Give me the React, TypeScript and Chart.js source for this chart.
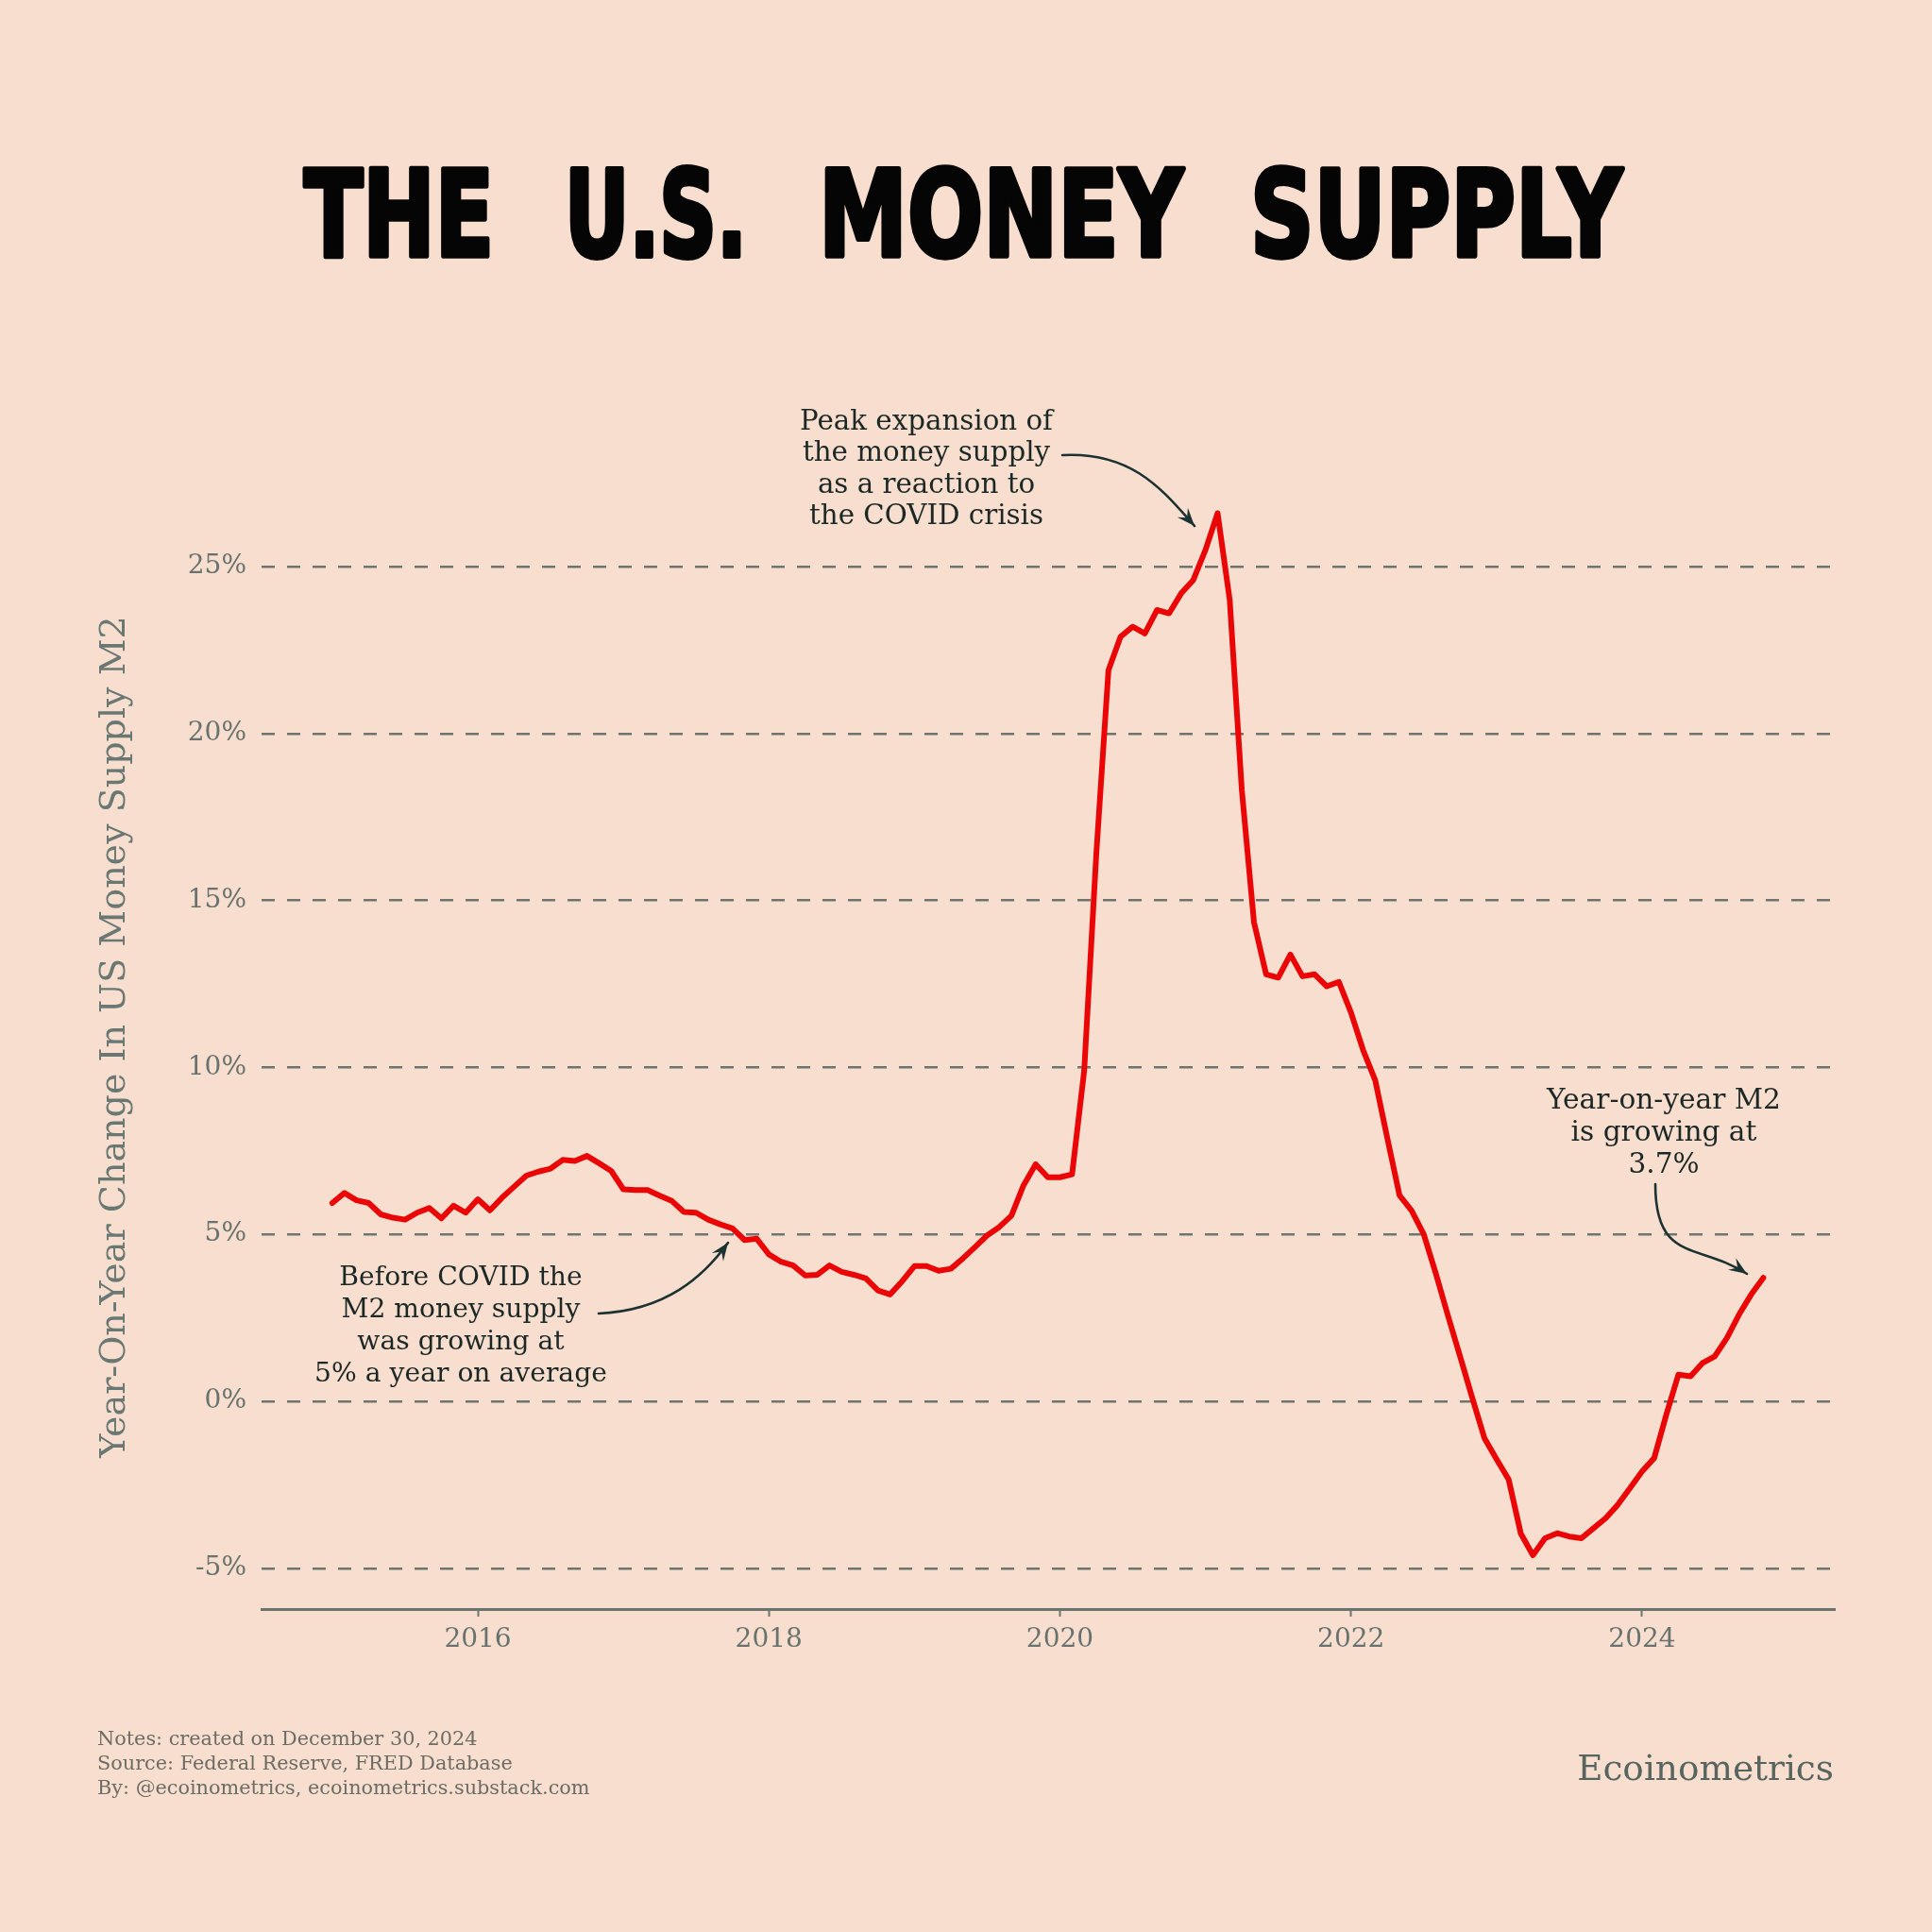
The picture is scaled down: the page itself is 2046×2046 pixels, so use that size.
import React, { useEffect, useRef } from "react";
import { Chart, registerables } from "chart.js";

Chart.register(...registerables);

// ---------- DATA ----------
const START_YEAR = 2015; // first monthly observation: January 2015
const m2_2015 = [5.94, 6.24, 6.02, 5.94, 5.6, 5.5, 5.44, 5.65, 5.79, 5.48, 5.86, 5.65];
const m2_2016 = [6.05, 5.72, 6.1, 6.43, 6.76, 6.88, 6.97, 7.23, 7.2, 7.35, 7.13, 6.9];
const m2_2017 = [6.35, 6.33, 6.33, 6.16, 6.0, 5.67, 5.65, 5.44, 5.3, 5.18, 4.83, 4.87];
const m2_2018 = [4.4, 4.18, 4.07, 3.77, 3.79, 4.07, 3.88, 3.79, 3.68, 3.32, 3.2, 3.6];
const m2_2019 = [4.05, 4.05, 3.91, 3.97, 4.28, 4.62, 4.97, 5.22, 5.56, 6.47, 7.1, 6.71];
const m2_2020 = [6.71, 6.8, 9.9, 16.4, 21.9, 22.9, 23.2, 23.0, 23.7, 23.6, 24.2, 24.6];
const m2_2021 = [25.5, 26.6, 24.0, 18.3, 14.35, 12.79, 12.69, 13.38, 12.73, 12.79, 12.43, 12.56];
const m2_2022 = [11.64, 10.52, 9.61, 7.87, 6.17, 5.71, 5.0, 3.82, 2.56, 1.34, 0.1, -1.1];
const m2_2023 = [-1.73, -2.34, -3.96, -4.61, -4.1, -3.95, -4.05, -4.1, -3.8, -3.5, -3.1, -2.6];
const m2_2024 = [-2.1, -1.7, -0.4, 0.8, 0.75, 1.15, 1.35, 1.9, 2.6, 3.2, 3.7];

const m2YoY = [
  ...m2_2015, ...m2_2016, ...m2_2017, ...m2_2018, ...m2_2019,
  ...m2_2020, ...m2_2021, ...m2_2022, ...m2_2023, ...m2_2024,
];

const yearTicks = [2016, 2018, 2020, 2022, 2024];
const pctTicks = [-5, 0, 5, 10, 15, 20, 25];

const TITLE_WORDS = ["THE", "U.S.", "MONEY", "SUPPLY"];
const Y_TITLE = "Year-On-Year Change In US Money Supply M2";
const NOTE_PEAK = ["Peak expansion of", "the money supply", "as a reaction to", "the COVID crisis"];
const NOTE_BEFORE = ["Before COVID the", "M2 money supply", "was growing at", "5% a year on average"];
const NOTE_NOW = ["Year-on-year M2", "is growing at", "3.7%"];
const FOOTER = [
  "Notes: created on December 30, 2024",
  "Source: Federal Reserve, FRED Database",
  "By: @ecoinometrics, ecoinometrics.substack.com",
];
const BRAND = "Ecoinometrics";

// ---------- STYLE ----------
const W = 2046;
const H = 2046;
const BG = "rgb(248,222,206)";
const RED = "rgb(234,6,6)";
const GRID = "rgb(112,116,110)";
const AXIS = "rgb(108,116,112)";
const TICK = "rgb(104,114,110)";
const NOTE = "rgb(28,40,38)";
const ARROW = "rgb(28,50,50)";
const SERIF = '"DejaVu Serif", "Liberation Serif", serif';
const SANS = '"DejaVu Sans", "Liberation Sans", sans-serif';

function fitSize(ctx: CanvasRenderingContext2D, text: string, family: string, weight: string, target: number) {
  ctx.font = `${weight} 100px ${family}`;
  const w = ctx.measureText(text).width;
  return (100 * target) / w;
}

function blockSize(ctx: CanvasRenderingContext2D, lines: string[], family: string, target: number) {
  ctx.font = `normal 100px ${family}`;
  let maxW = 0;
  for (const l of lines) maxW = Math.max(maxW, ctx.measureText(l).width);
  return (100 * target) / maxW;
}

function arrowHead(ctx: CanvasRenderingContext2D, x: number, y: number, a: number) {
  const len = 19;
  const half = 7.5;
  const c = Math.cos(a);
  const s = Math.sin(a);
  ctx.beginPath();
  ctx.moveTo(x, y);
  ctx.lineTo(x - len * c + half * s, y - len * s - half * c);
  ctx.lineTo(x - len * 0.62 * c, y - len * 0.62 * s);
  ctx.lineTo(x - len * c - half * s, y - len * s + half * c);
  ctx.closePath();
  ctx.fill();
}

function curvedArrow(
  ctx: CanvasRenderingContext2D,
  p0: [number, number],
  c1: [number, number],
  c2: [number, number],
  p1: [number, number]
) {
  ctx.save();
  ctx.strokeStyle = ARROW;
  ctx.fillStyle = ARROW;
  ctx.lineWidth = 2.6;
  ctx.lineCap = "round";
  ctx.beginPath();
  ctx.moveTo(p0[0], p0[1]);
  ctx.bezierCurveTo(c1[0], c1[1], c2[0], c2[1], p1[0], p1[1]);
  ctx.stroke();
  arrowHead(ctx, p1[0], p1[1], Math.atan2(p1[1] - c2[1], p1[0] - c2[0]));
  ctx.restore();
}

function noteBlock(ctx: CanvasRenderingContext2D, lines: string[], cx: number, y0: number, step: number, target: number) {
  const size = blockSize(ctx, lines, SERIF, target);
  ctx.save();
  ctx.font = `normal ${size}px ${SERIF}`;
  ctx.fillStyle = NOTE;
  ctx.textAlign = "center";
  ctx.textBaseline = "middle";
  lines.forEach((l, i) => ctx.fillText(l, cx, y0 + i * step));
  ctx.restore();
}

const backgroundPlugin = {
  id: "bgFill",
  beforeDraw(chart: any) {
    const ctx = chart.ctx as CanvasRenderingContext2D;
    ctx.save();
    ctx.fillStyle = BG;
    ctx.fillRect(0, 0, chart.width, chart.height);
    ctx.restore();
  },
};

const decorPlugin = {
  id: "decor",
  afterDraw(chart: any) {
    const ctx = chart.ctx as CanvasRenderingContext2D;

    // Title: each word stretched into its box, thickened with a stroke
    const boxes: [number, number][] = [
      [322, 523],
      [598, 791],
      [867, 1253],
      [1324, 1718],
    ];
    ctx.save();
    ctx.fillStyle = "#050505";
    ctx.strokeStyle = "#050505";
    ctx.lineJoin = "round";
    ctx.textBaseline = "alphabetic";
    ctx.textAlign = "left";
    ctx.font = `bold 126px ${SANS}`;
    TITLE_WORDS.forEach((w, i) => {
      const m = ctx.measureText(w).width;
      const [x0, x1] = boxes[i];
      const sx = (x1 - x0) / m;
      ctx.save();
      ctx.translate(x0, 271);
      ctx.scale(sx, 1);
      ctx.lineWidth = 4 / sx;
      ctx.fillText(w, 0, 0);
      ctx.strokeText(w, 0, 0);
      ctx.restore();
    });
    ctx.restore();

    // Y axis title
    ctx.save();
    const ys = fitSize(ctx, Y_TITLE, SERIF, "normal", 892);
    ctx.font = `normal ${ys}px ${SERIF}`;
    ctx.fillStyle = "rgb(106,120,116)";
    ctx.translate(122, 1098);
    ctx.rotate(-Math.PI / 2);
    ctx.textAlign = "center";
    ctx.textBaseline = "middle";
    ctx.fillText(Y_TITLE, 0, 0);
    ctx.restore();

    // Annotations
    noteBlock(ctx, NOTE_PEAK, 981, 447, 33.6, 268);
    curvedArrow(ctx, [1125, 482], [1200, 478], [1232, 520], [1265, 557]);

    noteBlock(ctx, NOTE_BEFORE, 488, 1354, 34, 310);
    curvedArrow(ctx, [634, 1391], [705, 1388], [745, 1352], [771, 1316]);

    noteBlock(ctx, NOTE_NOW, 1762, 1166, 34, 248);
    curvedArrow(ctx, [1753, 1254], [1753, 1338], [1800, 1316], [1850, 1349]);

    // Footer
    ctx.save();
    const fs = blockSize(ctx, FOOTER, SERIF, 522);
    ctx.font = `normal ${fs}px ${SERIF}`;
    ctx.fillStyle = "rgb(108,108,102)";
    ctx.textAlign = "left";
    ctx.textBaseline = "middle";
    FOOTER.forEach((l, i) => ctx.fillText(l, 103, 1843 + i * 26));
    ctx.restore();

    ctx.save();
    const bs = fitSize(ctx, BRAND, SERIF, "normal", 272);
    ctx.font = `normal ${bs}px ${SERIF}`;
    ctx.fillStyle = "rgb(88,100,96)";
    ctx.textAlign = "right";
    ctx.textBaseline = "alphabetic";
    ctx.fillText(BRAND, 1942, 1885);
    ctx.restore();
  },
};

export default function App() {
  const ref = useRef<HTMLCanvasElement | null>(null);

  useEffect(() => {
    document.body.style.margin = "0";
    document.body.style.background = BG;
    const canvas = ref.current;
    if (!canvas) return;

    const points = m2YoY.map((v, i) => ({ x: START_YEAR + i / 12, y: v }));

    const chart = new Chart(canvas, {
      type: "line",
      data: {
        datasets: [
          {
            data: points,
            borderColor: RED,
            borderWidth: 6,
            pointRadius: 0,
            tension: 0,
            fill: false,
            borderJoinStyle: "round",
            borderCapStyle: "round",
          } as any,
        ],
      },
      options: {
        responsive: false,
        animation: false,
        devicePixelRatio: 1,
        layout: { padding: { left: 0, right: 103, top: 512, bottom: 0 } },
        plugins: {
          legend: { display: false },
          tooltip: { enabled: false },
          title: { display: false },
        },
        scales: {
          x: {
            type: "linear",
            min: 2014.514,
            max: 2025.324,
            afterFit: (s: any) => {
              s.height = 342;
            },
            afterBuildTicks: (s: any) => {
              s.ticks = yearTicks.map((v) => ({ value: v }));
            },
            grid: {
              display: true,
              drawOnChartArea: false,
              drawTicks: true,
              tickLength: 8,
              tickColor: AXIS,
              tickWidth: 2,
            },
            border: { display: true, color: AXIS, width: 3 },
            ticks: {
              color: TICK,
              font: { family: SERIF, size: 28 },
              padding: 8,
              maxRotation: 0,
              autoSkip: false,
              callback: (v: any) => String(v),
            },
          },
          y: {
            type: "linear",
            min: -6.222,
            max: 27.49,
            afterFit: (s: any) => {
              s.width = 277;
            },
            afterBuildTicks: (s: any) => {
              s.ticks = pctTicks.map((v) => ({ value: v }));
            },
            grid: { color: GRID, lineWidth: 2.5, drawTicks: false },
            border: { display: false, dash: [14, 13] },
            ticks: {
              color: TICK,
              font: { family: SERIF, size: 28 },
              padding: 16,
              callback: (v: any) => `${v}%`,
            },
          },
        },
      } as any,
      plugins: [backgroundPlugin, decorPlugin],
    });

    let alive = true;
    (document as any).fonts?.ready?.then(() => {
      if (alive) chart.update();
    });

    return () => {
      alive = false;
      chart.destroy();
    };
  }, []);

  return (
    <div style={{ width: W, height: H, background: BG }}>
      <canvas ref={ref} width={W} height={H} style={{ display: "block", width: W, height: H }} />
    </div>
  );
}
